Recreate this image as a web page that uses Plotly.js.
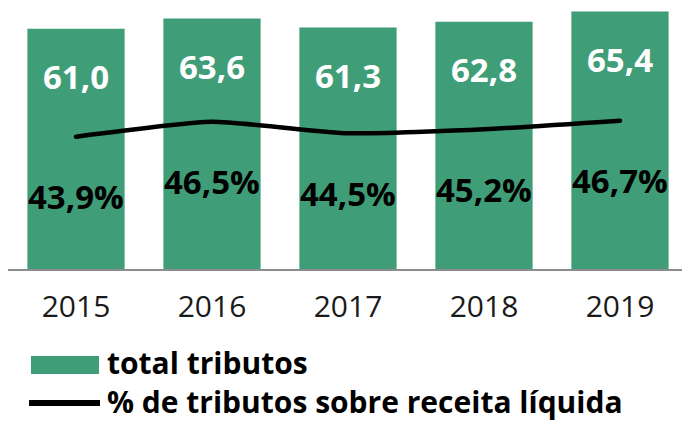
<!DOCTYPE html>
<html>
<head>
<meta charset="utf-8">
<script src="https://cdn.plot.ly/plotly-3.0.1.min.js"></script>
<style>html,body{margin:0;padding:0;background:#fff;}#chart{width:682px;height:422px;}</style>
</head>
<body>
<div id="chart"></div>
<script>
var years = ["2015", "2016", "2017", "2018", "2019"];
var totalTributos = [61.0, 63.6, 61.3, 62.8, 65.4];
var pctReceita = [43.9, 46.5, 44.5, 45.2, 46.7];
var seriesNames = ["total tributos", "% de tributos sobre receita líquida"];

var FONT = "Open Sans, Segoe UI, sans-serif";
var GREEN = "#3f9d78";

function fmt(v) { return v.toFixed(1).replace(".", ","); }

var bars = {
  type: "bar", x: years, y: totalTributos, name: seriesNames[0],
  marker: {color: GREEN}, hoverinfo: "skip", showlegend: false
};
var line = {
  type: "scatter", mode: "lines", x: years, y: pctReceita, yaxis: "y2",
  name: seriesNames[1], line: {color: "#000", width: 4.5, shape: "spline", smoothing: 0.5},
  hoverinfo: "skip", showlegend: false
};

var annotations = [];
years.forEach(function (yr, i) {
  // category axes: annotation x is the category's serial index
  annotations.push({x: i, y: totalTributos[i], xref: "x", yref: "y", yshift: -48,
    text: fmt(totalTributos[i]), showarrow: false, yanchor: "middle",
    font: {family: FONT, size: 33, color: "#ffffff", weight: 700}});
  annotations.push({x: i, y: pctReceita[i], xref: "x", yref: "y2", yshift: -60,
    text: fmt(pctReceita[i]) + "%", showarrow: false, yanchor: "middle",
    font: {family: FONT, size: 33, color: "#000000", weight: 700}});
});
// manual legend labels (one two-line block)
annotations.push({xref: "paper", yref: "paper", x: 0.1454, y: -0.421, xanchor: "left", yanchor: "middle",
  align: "left", text: seriesNames.join("<br>"), showarrow: false, borderpad: 0,
  font: {family: FONT, size: 30, color: "#000", weight: 700}});

var shapes = [
  {type: "rect", xref: "paper", yref: "paper", x0: 0.0341, x1: 0.135, y0: -0.390, y1: -0.323,
   fillcolor: GREEN, line: {width: 0}},
  {type: "line", xref: "paper", yref: "paper", x0: 0.0312, x1: 0.1365, y0: -0.498, y1: -0.498,
   line: {color: "#000", width: 6}}
];

var layout = {
  width: 682, height: 422,
  margin: {l: 8, r: 0, t: 0, b: 153},
  paper_bgcolor: "#fff", plot_bgcolor: "#fff",
  bargap: 0.285,
  showlegend: false,
  xaxis: {type: "category", range: [-0.5, 4.456], showgrid: false, zeroline: false,
    showline: true, linecolor: "#8c8c8c", linewidth: 2, ticks: "",
    tickfont: {family: FONT, size: 30, color: "#1a1a1a"}, ticklabelstandoff: 10, fixedrange: true},
  yaxis: {range: [0, 68.3], visible: false, showgrid: false, zeroline: false, fixedrange: true},
  yaxis2: {range: [20.73, 67.84], overlaying: "y", visible: false, showgrid: false, zeroline: false, fixedrange: true},
  annotations: annotations,
  shapes: shapes,
  font: {family: FONT}
};

Plotly.newPlot("chart", [bars, line], layout, {displayModeBar: false, staticPlot: true}).then(function () {
  document.querySelectorAll(".scatterlayer path.js-line").forEach(function (p) {
    p.style.strokeLinecap = "round";
  });
});
</script>
</body>
</html>
